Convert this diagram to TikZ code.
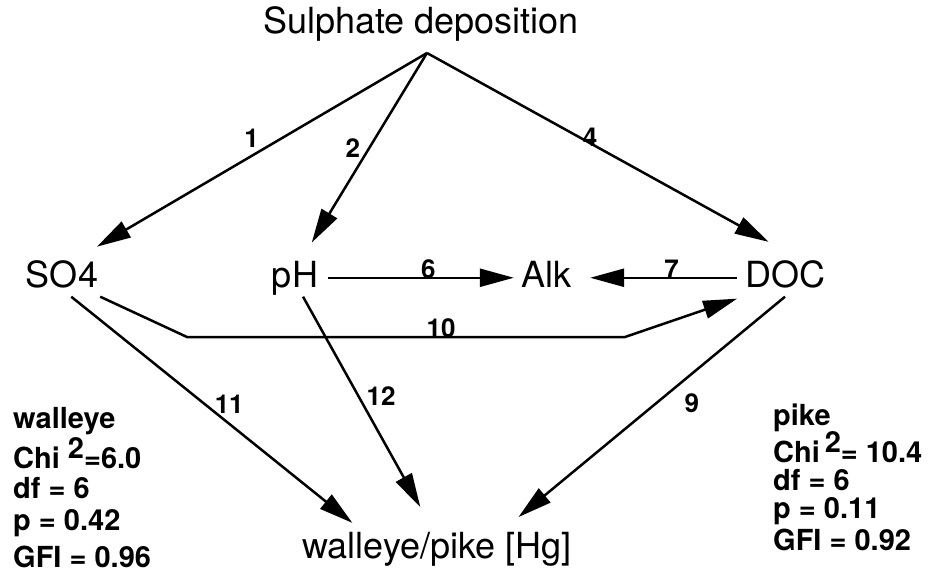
\documentclass[tikz,border=0pt]{standalone}
\usepackage{fontspec}
\setmainfont{TeX Gyre Heros}
\usetikzlibrary{positioning,arrows.meta}

\begin{document}
\begin{tikzpicture}[x=1pt,y=-1pt,
     var/.style={font=\fontsize{36}{40}\selectfont,text height=26pt,text depth=7.5pt,inner sep=2pt,anchor=base},
     num/.style={font=\fontsize{26}{28}\selectfont\bfseries,inner sep=1pt},
     stats/.style={font=\fontsize{29}{30}\selectfont\bfseries,align=left,inner sep=0pt,anchor=north west},
     arr/.style={line width=2.5pt,-{Triangle[length=34pt,width=18pt]}}]
    \useasboundingbox (0,0) rectangle (932,579);
    \node[var](dep) at (421,33){Sulphate deposition};
    \coordinate (top) at (427,53);
    \node[var](so4) at (62,287){SO4};   \node[var](ph) at (295,287){pH};
    \node[var](alk) at (546,287){Alk};  \node[var](doc) at (785,287){DOC};
    \node[var](hg) at (437,558){walleye/pike [Hg]};
    \coordinate (b10a) at (187,337);    \coordinate (b10b) at (625,337);
    \node[stats](wal) at (13,407){walleye\\[10pt]Chi \smash{\raisebox{10pt}{2}}=6.0\\df = 6\\[2pt]p = 0.42\\[7pt]GFI = 0.96};
    \node[stats](pik) at (773,404){pike\\[7pt]Chi\,\smash{\raisebox{10pt}{2}}= 10.4\\[-2pt]df = 6\\[-2pt]p = 0.11\\[2pt]GFI = 0.92};
    \draw[arr,shorten >=24pt](top)--node[num,pos=.5,above=6pt](l1){1}(so4.53);
    \draw[arr,shorten >=19pt](top)--node[num,pos=.46,left=7pt](l2){2}(ph.70);
    \draw[arr,shorten >=35pt](top)--node[num,pos=.438,above=-6pt](l4){4}(doc.53);
    \draw[arr,shorten <=8pt,shorten >=5pt](ph)--node[num,pos=.545,above=-3pt](l6){6}(alk);
    \draw[arr,shorten <=6pt,shorten >=17pt](doc)--node[num,pos=.42,above=-3pt](l7){7}(alk);
    \draw[arr,shorten >=6pt](so4.south east)--(b10a)--node[num,pos=.58,above=-2.5pt](l10){10}(b10b)--(doc.south west);
    \draw[arr,shorten >=11pt](so4.-64)--node[num,pos=.46,right=8pt](l11){11}(hg.166);
    \draw[arr,shorten >=26pt](ph.-67)--node[num,pos=.426,right=6pt](l12){12}(hg.102);
    \draw[arr,shorten >=20pt](doc.south)--node[num,pos=.456,right=26pt](l9){9}(hg.16);
  \end{tikzpicture}
\end{document}
